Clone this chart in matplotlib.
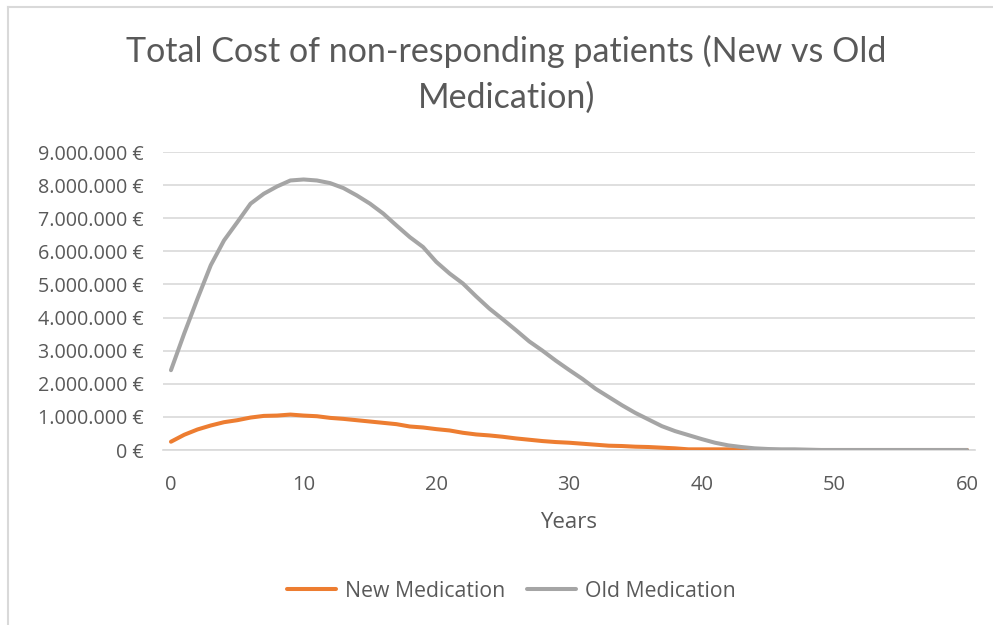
import matplotlib
matplotlib.use('Agg')
import matplotlib.pyplot as plt
from matplotlib.ticker import FuncFormatter
from matplotlib.lines import Line2D

years = list(range(0, 61))

new_med = [0.25, 0.46, 0.62, 0.74, 0.84, 0.90, 0.98, 1.03, 1.04, 1.07,
           1.04, 1.02, 0.97, 0.94, 0.90, 0.86, 0.82, 0.78, 0.71, 0.68,
           0.63, 0.59, 0.52, 0.47, 0.44, 0.40, 0.35, 0.31, 0.27, 0.24,
           0.22, 0.19, 0.16, 0.13, 0.12, 0.10, 0.09, 0.07, 0.05, 0.02,
           0.02, 0.02, 0.02, 0.01, 0.01] + [0.0] * 16

old_med = [2.41, 3.52, 4.57, 5.58, 6.33, 6.88, 7.44, 7.74, 7.96, 8.14,
           8.17, 8.14, 8.06, 7.91, 7.69, 7.44, 7.14, 6.78, 6.43, 6.13,
           5.68, 5.33, 5.03, 4.64, 4.27, 3.95, 3.62, 3.28, 3.00, 2.70,
           2.42, 2.15, 1.85, 1.60, 1.35, 1.12, 0.92, 0.72, 0.57, 0.45,
           0.33, 0.22, 0.14, 0.09, 0.05, 0.03, 0.02, 0.02, 0.01] + [0.0] * 12

new_med = [v * 1e6 for v in new_med]
old_med = [v * 1e6 for v in old_med]

text_col = '#595959'
plt.rcParams['font.family'] = ['Open Sans', 'DejaVu Sans']

fig = plt.figure(figsize=(9.93, 6.25), dpi=100)
ax = fig.add_axes([163 / 993, 175 / 625, 812 / 993, 298 / 625])

ax.plot(years, new_med, color='#ED7D31', lw=2.9, solid_capstyle='round', label='New Medication', zorder=3)
ax.plot(years, old_med, color='#A5A5A5', lw=2.9, solid_capstyle='round', label='Old Medication', zorder=3)

ax.set_xlim(-0.6, 60.6)
ax.set_ylim(0, 9e6)
ax.set_xticks(range(0, 61, 10))
ax.set_yticks([i * 1e6 for i in range(10)])


def euro(v, pos):
    return '{:,.0f} €'.format(v).replace(',', '.')


ax.yaxis.set_major_formatter(FuncFormatter(euro))
ax.grid(axis='y', color='#d9d9d9', lw=1.2)
ax.set_axisbelow(True)
for s in ['top', 'right', 'left']:
    ax.spines[s].set_visible(False)
ax.spines['bottom'].set_color('#d9d9d9')
ax.spines['bottom'].set_linewidth(1.2)
ax.tick_params(axis='both', length=0, labelcolor=text_col)
ax.tick_params(axis='y', labelsize=14.2, pad=14)
ax.tick_params(axis='x', labelsize=14.5, pad=18)

ax.set_xlabel('Years', fontsize=16, color=text_col, labelpad=12)

fig.text(0.51, 0.917, 'Total Cost of non-responding patients (New vs Old',
         ha='center', va='center', fontsize=24.5, color=text_col, family=['Lato', 'DejaVu Sans'])
fig.text(0.51, 0.843, 'Medication)',
         ha='center', va='center', fontsize=24.5, color=text_col, family=['Lato', 'DejaVu Sans'])

ax.legend(loc='center', bbox_to_anchor=(0.515, 0.054), bbox_transform=fig.transFigure,
          ncol=2, frameon=False, fontsize=15.3, labelcolor=text_col,
          handlelength=2.3, handletextpad=0.45, columnspacing=1.0)

# outer chart border (top and left visible in the crop)
fig.add_artist(Line2D([8 / 993, 1], [1 - 7 / 625, 1 - 7 / 625], transform=fig.transFigure, color='#d9d9d9', lw=1.5))
fig.add_artist(Line2D([8 / 993, 8 / 993], [0, 1 - 7 / 625], transform=fig.transFigure, color='#d9d9d9', lw=1.5))

fig.savefig('out.png', dpi=100)
